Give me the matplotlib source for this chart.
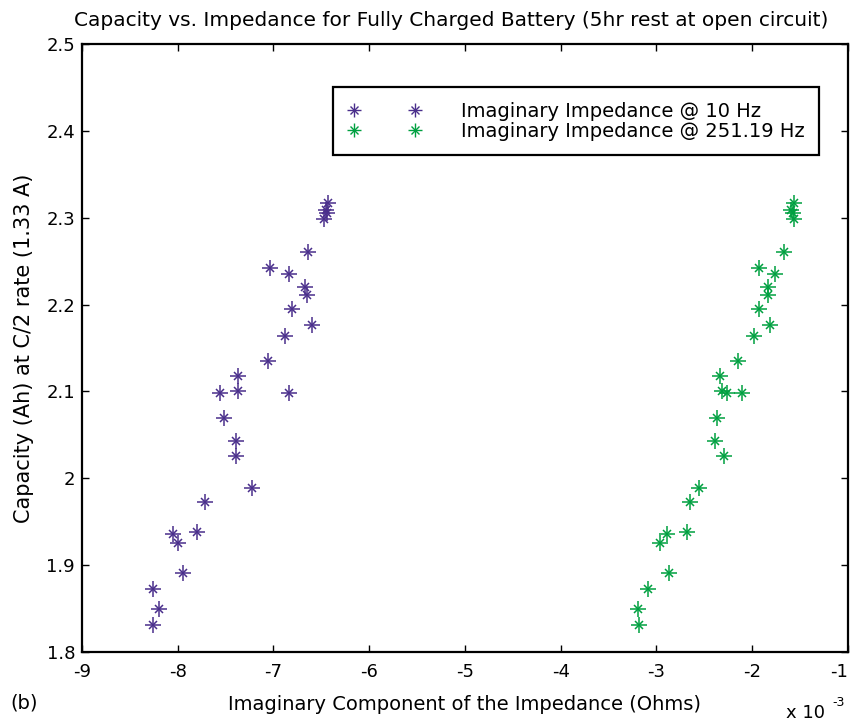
import numpy as np
import matplotlib
matplotlib.use("Agg")
import matplotlib.pyplot as plt
from matplotlib.lines import Line2D
from matplotlib.legend_handler import HandlerTuple

plt.rcParams['font.family'] = ['DejaVu Sans']
plt.rcParams['axes.unicode_minus'] = False

# capacity of each cell (Ah), shared by both series
capacity = [2.317, 2.309, 2.305, 2.299, 2.260, 2.242, 2.235, 2.220, 2.211, 2.195,
            2.176, 2.164, 2.135, 2.118, 2.098, 2.100, 2.098, 2.069, 2.043, 2.026,
            1.989, 1.973, 1.936, 1.926, 1.938, 1.891, 1.872, 1.850, 1.831]

# imaginary impedance (x 1e-3 Ohms)
imag_10hz = [-6.434, -6.452, -6.445, -6.469, -6.637, -7.040, -6.838, -6.674, -6.653, -6.804,
             -6.601, -6.877, -7.061, -7.374, -7.556, -7.374, -6.838, -7.517, -7.392, -7.392,
             -7.225, -7.719, -8.053, -7.994, -7.796, -7.942, -8.255, -8.196, -8.255]
imag_251hz = [-1.561, -1.598, -1.578, -1.561, -1.671, -1.930, -1.766, -1.839, -1.839, -1.930,
              -1.818, -1.985, -2.152, -2.334, -2.264, -2.316, -2.110, -2.371, -2.389, -2.295,
              -2.556, -2.647, -2.887, -2.960, -2.685, -2.866, -3.089, -3.196, -3.180]

series = [
    (imag_10hz, "#4a2f8c", "Imaginary Impedance @ 10 Hz"),
    (imag_251hz, "#00a040", "Imaginary Impedance @ 251.19 Hz"),
]

fig = plt.figure(figsize=(8.53, 7.26), dpi=100)
ax = fig.add_axes([0.0961, 0.1019, 0.898, 0.8375])

handles = []
labels = []
for xs, col, lab in series:
    ax.plot(xs, capacity, linestyle='none', marker='+', markersize=11,
            markeredgewidth=1.1, color=col)
    ax.plot(xs, capacity, linestyle='none', marker='x', markersize=6,
            markeredgewidth=1.1, color=col)
    h1 = Line2D([], [], linestyle='none', marker='+', markersize=10,
                markeredgewidth=1.0, color=col)
    h2 = Line2D([], [], linestyle='none', marker='x', markersize=5.5,
                markeredgewidth=1.0, color=col)
    handles.append((h1, h2))
    labels.append(lab)

ax.set_xlim(-9, -1)
ax.set_ylim(1.8, 2.5)
ax.set_xticks(np.arange(-9, 0, 1))
ax.set_yticks([1.8, 1.9, 2.0, 2.1, 2.2, 2.3, 2.4, 2.5])
ax.set_yticklabels(['1.8', '1.9', '2', '2.1', '2.2', '2.3', '2.4', '2.5'])

for s in ax.spines.values():
    s.set_linewidth(1.6)
ax.tick_params(direction='in', length=5, width=1.0, top=True, right=True,
               labelsize=13, colors='black')
ax.tick_params(axis='x', pad=8)
ax.tick_params(axis='y', pad=5)
# last x label sits against the figure edge
ax.get_xticklabels()[-1].set_horizontalalignment('right')

ax.set_title("Capacity vs. Impedance for Fully Charged Battery (5hr rest at open circuit)",
             fontsize=14.5, pad=13, x=0.482)
ax.set_xlabel("Imaginary Component of the Impedance (Ohms)", fontsize=14, labelpad=10)
ax.set_ylabel("Capacity (Ah) at C/2 rate (1.33 A)", fontsize=15, labelpad=9)

leg = ax.legend(handles, labels, handler_map={tuple: HandlerTuple(ndivide=1)},
                numpoints=2, handlelength=3.75, handletextpad=2.05, fontsize=14,
                loc='upper right', bbox_to_anchor=(0.962, 0.929), borderaxespad=0,
                fancybox=False, framealpha=1, edgecolor='black', labelspacing=0.05,
                borderpad=0.75)
leg.get_frame().set_linewidth(1.6)

fig.text(0.012, 0.032, "(b)", fontsize=14, va='center', ha='left')
fig.text(0.922, 0.018, "x 10", fontsize=13, va='center', ha='left')
fig.text(0.976, 0.033, "-3", fontsize=9, va='center', ha='left')

fig.savefig("out.png", dpi=100)
